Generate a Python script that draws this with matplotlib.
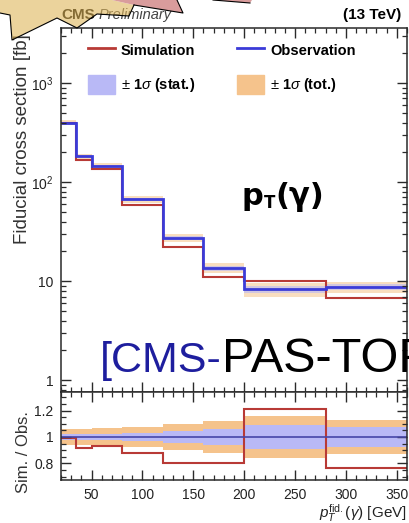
import numpy as np
import matplotlib
matplotlib.use('Agg')
import matplotlib.pyplot as plt
from matplotlib.lines import Line2D
from matplotlib.patches import Patch, Polygon
from matplotlib.ticker import FixedLocator, FixedFormatter, MultipleLocator, LogLocator, NullFormatter

plt.rcParams['font.family'] = ['Liberation Sans', 'DejaVu Sans']
plt.rcParams['mathtext.fontset'] = 'custom'
plt.rcParams['mathtext.rm'] = 'Liberation Sans'
plt.rcParams['mathtext.it'] = 'Liberation Sans:italic'
plt.rcParams['mathtext.bf'] = 'Liberation Sans:bold'

# binned photon pT spectrum (fb)
edges = [20, 35, 50, 80, 120, 160, 200, 280, 360]
obs = [398, 183, 145, 67, 27.4, 13.6, 8.25, 8.77]
sim = [394, 168, 135, 59, 22.0, 10.9, 10.0, 6.7]
stat_rel = [0.022, 0.023, 0.025, 0.032, 0.042, 0.058, 0.088, 0.072]
tot_rel = [0.058, 0.062, 0.066, 0.078, 0.095, 0.118, 0.155, 0.13]

xticks = [50, 100, 150, 200, 250, 300, 350]
yticks_top = [1, 10, 100, 1000]
ylabels_top = ['1', '10', '$10^{2}$', '$10^{3}$']
yticks_ratio = [0.8, 1.0, 1.2]
ylabels_ratio = ['0.8', '1', '1.2']

RED = '#b83a36'
BLUE = '#3b3bd8'
STAT = '#b9b9f6'
TOT = '#f5c38c'
FRAME = '#2a2a2a'

W, H = 409, 523
fig = plt.figure(figsize=(W / 100, H / 100), dpi=100)
ax = fig.add_axes([61 / W, 1 - 392 / H, 346 / W, 364 / H])
rx = fig.add_axes([61 / W, 1 - 480 / H, 346 / W, 88 / H])

obs = np.array(obs)
sim = np.array(sim)
stat_rel = np.array(stat_rel)
tot_rel = np.array(tot_rel)

# main panel
ax.stairs(obs * (1 + tot_rel), edges, baseline=obs * (1 - tot_rel), fill=True, color=TOT, alpha=0.55, lw=0)
ax.stairs(obs * (1 + stat_rel), edges, baseline=obs * (1 - stat_rel), fill=True, color=STAT, alpha=0.6, lw=0)
ax.stairs(sim, edges, baseline=None, color=RED, lw=1.5)
ax.stairs(obs, edges, baseline=None, color=BLUE, lw=2.0)
ax.set_yscale('log')
ax.set_xlim(20, 360)
ax.set_ylim(0.76, 3600)

# ratio panel
rx.stairs(1 + tot_rel, edges, baseline=1 - tot_rel, fill=True, color=TOT, lw=0)
rx.stairs(1 + stat_rel, edges, baseline=1 - stat_rel, fill=True, color=STAT, lw=0)
rx.axhline(1.0, color='#4646a8', lw=1.2)
rx.stairs(sim / obs, edges, baseline=None, color=RED, lw=1.5)
rx.set_xlim(20, 360)
rx.set_ylim(0.675, 1.34)

for a in (ax, rx):
    a.xaxis.set_major_locator(FixedLocator(xticks))
    a.xaxis.set_minor_locator(MultipleLocator(10))
    a.tick_params(which='both', direction='in', top=True, right=True, color=FRAME,
                  labelsize=10, labelcolor='#222222')
    a.tick_params(which='major', length=7, width=1.0)
    a.tick_params(which='minor', length=3.5, width=0.9)
    for s in a.spines.values():
        s.set_color(FRAME)
        s.set_linewidth(1.1)

ax.tick_params(axis='x', labelbottom=False)
ax.yaxis.set_major_locator(FixedLocator(yticks_top))
ax.yaxis.set_major_formatter(FixedFormatter(ylabels_top))
ax.yaxis.set_minor_locator(LogLocator(subs=np.arange(2, 10)))
ax.yaxis.set_minor_formatter(NullFormatter())
ax.tick_params(axis='y', pad=5.5)

rx.yaxis.set_major_locator(FixedLocator(yticks_ratio))
rx.yaxis.set_major_formatter(FixedFormatter(ylabels_ratio))
rx.yaxis.set_minor_locator(MultipleLocator(0.05))
rx.tick_params(axis='y', pad=5.5)
rx.tick_params(axis='x', pad=5.5)

ax.set_ylabel('Fiducial cross section [fb]', fontsize=13.5, color='#333333')
ax.yaxis.set_label_coords(-0.086, 0.695)
rx.set_ylabel('Sim. / Obs.', fontsize=12, color='#333333')
rx.yaxis.set_label_coords(-0.086, 0.32)
rx.set_xlabel(r'$p_{T}^{\mathrm{fid.}}(\gamma)$ [GeV]', fontsize=11, color='#222222')
rx.xaxis.set_label_coords(1.0, -0.255)
rx.xaxis.label.set_ha('right')
rx.xaxis.label.set_va('top')

handles = [Line2D([], [], color=RED, lw=2), Patch(color=STAT),
           Line2D([], [], color=BLUE, lw=2), Patch(color=TOT)]
labels = ['Simulation', r'$\pm$ 1$\sigma$ (stat.)', 'Observation', r'$\pm$ 1$\sigma$ (tot.)']
ax.legend(handles, labels, ncol=2, loc='upper left', bbox_to_anchor=(0.078, 0.964),
          frameon=False, borderpad=0, borderaxespad=0, handlelength=1.85, handleheight=1.6,
          handletextpad=0.4, columnspacing=2.9, labelspacing=1.05,
          prop={'weight': 'bold', 'size': 10.5})

# header
fig.text(61 / W, 1 - 19 / H, 'CMS', weight='bold', fontsize=11, va='baseline')
fig.text(99 / W, 1 - 19 / H, 'Preliminary', style='italic', fontsize=10.5, va='baseline', color='#444444')
fig.text(401 / W, 1 - 19 / H, '(13 TeV)', weight='bold', fontsize=11, va='baseline', ha='right')

# overlays pasted on the slide
tp = fig.text(242 / W, 1 - 205 / H, 'p', family='DejaVu Sans', weight='bold', fontsize=22, va='baseline')
fig.canvas.draw()
x_after_p = tp.get_window_extent().x1
tt = fig.text(x_after_p / W, 1 - 208 / H, 'T', family='DejaVu Sans', weight='bold', fontsize=12, va='baseline')
fig.canvas.draw()
fig.text(tt.get_window_extent().x1 / W, 1 - 205 / H, '(γ)', family='DejaVu Sans', weight='bold',
         fontsize=22, va='baseline')

t1 = fig.text(100 / W, 1 - 372 / H, '[CMS-', fontsize=31, va='baseline', color='#1e1e9e')
fig.canvas.draw()
bb = t1.get_window_extent()
fig.text(bb.x1 / W, 1 - 372 / H, 'PAS-TOP', fontsize=35, va='baseline', color='black')


def px(pts):
    return [(x / W, 1 - y / H) for x, y in pts]


fig.add_artist(Polygon(px([(0, 0), (0, 13), (10, 15), (12, 40), (57, 18), (77, 28), (97, 14),
                           (129, 16), (134, 5), (112, 0)]),
                       closed=True, transform=fig.transFigure, facecolor='#dfb65a',
                       alpha=0.6, edgecolor='none', zorder=10))
fig.add_artist(Line2D(*zip(*px([(0, 13), (10, 15), (12, 40), (57, 18), (77, 28), (97, 14),
                                (129, 16), (134, 5)])),
                      transform=fig.transFigure, color='black', lw=0.8, zorder=11))
fig.add_artist(Polygon(px([(112, 0), (134, 5), (183, 13), (177, 0)]), closed=True,
                       transform=fig.transFigure, facecolor='#d99c9c', edgecolor='none', zorder=10))
fig.add_artist(Line2D(*zip(*px([(134, 5), (183, 13), (177, 0)])),
                      transform=fig.transFigure, color='black', lw=0.8, zorder=11))
fig.add_artist(Polygon(px([(213, 0), (250, 3), (252, 0)]), closed=True,
                       transform=fig.transFigure, facecolor='#d99c9c', edgecolor='none', zorder=10))
fig.add_artist(Line2D(*zip(*px([(213, 0), (250, 3)])),
                      transform=fig.transFigure, color='black', lw=0.8, zorder=11))

fig.savefig('out.png', dpi=100)
